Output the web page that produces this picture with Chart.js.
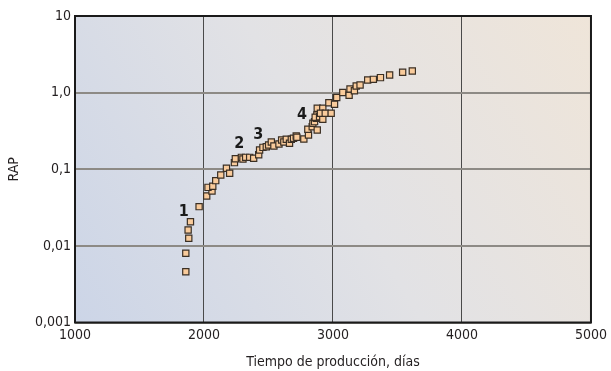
<!DOCTYPE html>
<html>
<head>
<meta charset="utf-8">
<script src="https://cdn.jsdelivr.net/npm/chart.js@4/dist/chart.umd.min.js"></script>
<style>
  html, body { margin: 0; padding: 0; background: #ffffff; }
  #wrap { width: 611px; height: 371px; }
</style>
</head>
<body>
<div id="wrap"><canvas id="c" width="611" height="371"></canvas></div>
<script>
// Tiempo de producción (días) y relación agua-petróleo (RAP) medida
const dias = [
  1859, 1859, 1882, 1877, 1895, 1962, 2021, 2062, 2031, 2068,
  2091, 2130, 2174, 2199, 2236, 2243, 2290, 2302, 2323, 2354,
  2385, 2424, 2431, 2457, 2483, 2501, 2522, 2542, 2581, 2602,
  2619, 2638, 2663, 2677, 2694, 2715, 2720, 2774, 2810, 2805,
  2839, 2878, 2844, 2857, 2870, 2875, 2862, 2896, 2921, 2878,
  2921, 2903, 2940, 2986, 2968, 3012, 3029, 3076, 3125, 3132,
  3166, 3180, 3210, 3269, 3313, 3368, 3439, 3540, 3615
];
const rap = [
  0.0046, 0.0080, 0.0126, 0.0161, 0.0207, 0.0325, 0.0448, 0.052, 0.058, 0.060,
  0.071, 0.084, 0.103, 0.0886, 0.122, 0.137, 0.143, 0.136, 0.143, 0.143,
  0.139, 0.155, 0.178, 0.193, 0.197, 0.207, 0.227, 0.201, 0.214, 0.241,
  0.227, 0.246, 0.218, 0.246, 0.254, 0.272, 0.261, 0.248, 0.280, 0.332,
  0.359, 0.325, 0.398, 0.418, 0.462, 0.511, 0.476, 0.485, 0.449, 0.624,
  0.624, 0.537, 0.537, 0.537, 0.739, 0.704, 0.863, 1.005, 0.923, 1.115,
  1.06, 1.22, 1.257, 1.46, 1.49, 1.57, 1.70, 1.84, 1.92
];

// Ejes
const xTicks = [1000, 2000, 3000, 4000, 5000];
const yTicks = [0.001, 0.01, 0.1, 1, 10];
const yTickLabels = ['0,001', '0,01', '0,1', '1,0', '10'];

// Marcadores de etapas
const etapas = ['1', '2', '3', '4'];
const etapaDias = [1843, 2274, 2420, 2759];
const etapaRap = [0.0277, 0.214, 0.28, 0.506];

const FONT = "'Liberation Sans Narrow', 'DejaVu Sans Condensed', 'Roboto', sans-serif";

// Fondo degradado del área de trazado
const fondo = {
  id: 'fondo',
  beforeDraw(chart) {
    const { ctx, chartArea: a } = chart;
    const g = ctx.createLinearGradient(a.left, a.bottom, a.right, a.top);
    g.addColorStop(0, 'rgb(204,213,231)');
    g.addColorStop(0.5, 'rgb(226,226,229)');
    g.addColorStop(1, 'rgb(239,229,217)');
    ctx.save();
    ctx.fillStyle = g;
    ctx.fillRect(a.left, a.top, a.right - a.left, a.bottom - a.top);
    ctx.restore();
  }
};

// Marco negro alrededor del área de trazado
const marco = {
  id: 'marco',
  beforeDatasetsDraw(chart) {
    const { ctx, chartArea: a } = chart;
    ctx.save();
    ctx.strokeStyle = '#1a1a1a';
    ctx.lineWidth = 2;
    ctx.strokeRect(a.left, a.top, a.right - a.left, a.bottom - a.top);
    ctx.restore();
  }
};

// Números de las etapas sobre la curva
const rotulos = {
  id: 'rotulos',
  afterDatasetsDraw(chart) {
    const { ctx, scales } = chart;
    ctx.save();
    ctx.font = 'bold 16px ' + FONT;
    ctx.fillStyle = '#1a1a1a';
    ctx.textAlign = 'center';
    ctx.textBaseline = 'middle';
    etapas.forEach((t, i) => {
      ctx.fillText(t, scales.x.getPixelForValue(etapaDias[i]), scales.y.getPixelForValue(etapaRap[i]));
    });
    ctx.restore();
  }
};

new Chart(document.getElementById('c'), {
  type: 'scatter',
  data: {
    datasets: [{
      data: dias.map((d, i) => ({ x: d, y: rap[i] })),
      pointStyle: 'rect',
      pointRadius: 4.4,
      pointHoverRadius: 4.4,
      backgroundColor: '#f9cb9b',
      borderColor: '#3a2f24',
      borderWidth: 1.2
    }]
  },
  options: {
    responsive: false,
    animation: false,
    devicePixelRatio: 1,
    events: [],
    layout: { padding: { top: 16, right: 17, left: 0, bottom: 0 } },
    plugins: { legend: { display: false }, tooltip: { enabled: false } },
    scales: {
      x: {
        type: 'linear',
        min: 1000,
        max: 5000,
        afterBuildTicks: s => { s.ticks = xTicks.map(v => ({ value: v })); },
        afterFit: s => { s.height = 48.5; },
        border: { display: false },
        grid: { color: '#4a4a4a', lineWidth: 1, drawTicks: false },
        ticks: {
          padding: 4,
          maxRotation: 0,
          autoSkip: false,
          color: '#231f20',
          font: { family: FONT, size: 14 },
          callback: v => String(v)
        },
        title: {
          display: true,
          text: 'Tiempo de producción, días',
          color: '#231f20',
          font: { family: FONT, size: 14 },
          padding: { top: 0, bottom: 0 }
        }
      },
      y: {
        type: 'logarithmic',
        min: 0.001,
        max: 10,
        afterBuildTicks: s => { s.ticks = yTicks.map(v => ({ value: v })); },
        afterFit: s => { s.width = 75; },
        border: { display: false },
        grid: { color: '#8d8a85', lineWidth: 2, drawTicks: false },
        ticks: {
          padding: 4,
          autoSkip: false,
          color: '#231f20',
          font: { family: FONT, size: 14 },
          callback: (v, i) => yTickLabels[i]
        },
        title: {
          display: true,
          text: 'RAP',
          color: '#231f20',
          font: { family: FONT, size: 14 },
          padding: { top: 6, bottom: 0 }
        }
      }
    }
  },
  plugins: [fondo, marco, rotulos]
});
</script>
</body>
</html>
